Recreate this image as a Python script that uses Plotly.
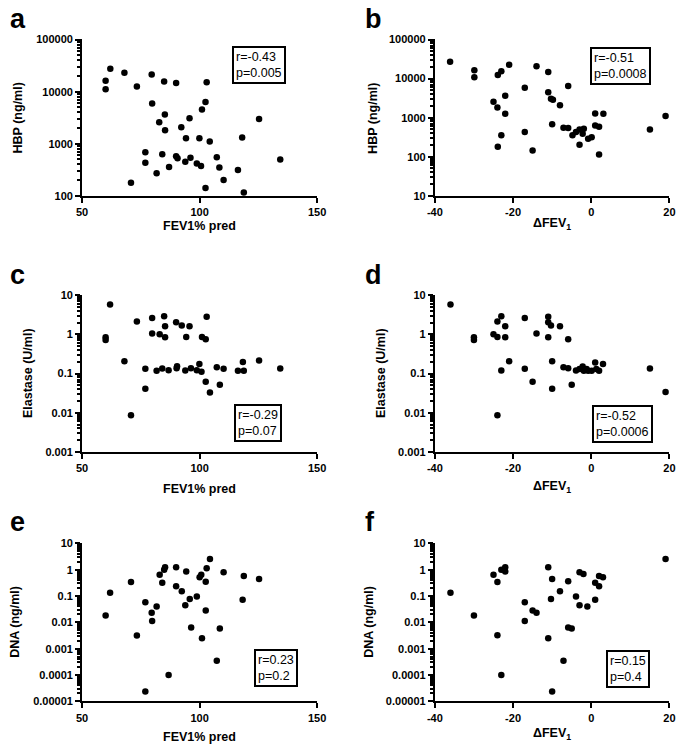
import plotly.graph_objects as go

# ---------------- data ----------------
a_x = [60, 60, 62, 68, 73.3, 79.6, 84.9, 90, 103, 79.8, 102.5, 101, 85.2, 82.8, 95.7, 92.2, 85.3, 94.2, 99.9,
       104.3, 118.1, 125.3, 76.9, 76.9, 84.1, 90, 90.6, 93.9, 96.1, 98.8, 100.6, 107.3, 108.4, 87, 81.7, 70.8,
       102.5, 110.2, 116.3, 118.8, 134.3]
a_y = [16200, 11100, 27600, 23200, 12500, 21300, 15700, 14600, 15100, 5900, 6300, 4540, 3650, 2580, 3070, 2080,
       1820, 1270, 1270, 1100, 1310, 2990, 683, 430, 627, 574, 526, 449, 535, 418, 372, 550, 351, 356, 271, 178,
       141, 200, 313, 115, 497]

b_x = [-36.1, -29.9, -29.9, -23.9, -23, -21, -14, -11, -17, -5.9, -11, -22, -10.3, -9.8, -8, -25, -24, -22, 1,
       3.1, 19, 15, -10, -7.1, -5.9, 1, 2, -17, -23, -4.8, -3.9, -3, -1.9, -2.2, -0.8, 0.1, -23.9, -15, -3, 2]
b_y = [27100, 16500, 10800, 12400, 15500, 22800, 20700, 14700, 5840, 6430, 4470, 3620, 3040, 2900, 2070, 2560,
       1810, 1260, 1280, 1260, 1100, 500, 680, 552, 545, 630, 585, 430, 355, 355, 430, 500, 520, 390, 287, 316,
       181, 144, 203, 114]

c_x = [61.9, 60, 60, 73.3, 79.8, 84.9, 90, 92.4, 85.3, 95.7, 103, 79.8, 83, 85.3, 94.3, 101, 102.6, 68, 76.9,
       81.7, 84.1, 86.8, 90.2, 90.4, 93.9, 96.3, 98.8, 99.9, 100.8, 107.3, 110.2, 116.3, 118.8, 118.4, 125.3,
       134.3, 76.9, 102.6, 108.6, 104.4, 70.8]
c_y = [5.73, 0.84, 0.72, 2.11, 2.6, 2.87, 2.03, 1.67, 1.61, 1.61, 2.81, 1.05, 1.0, 0.84, 0.85, 0.86, 0.75, 0.206,
       0.132, 0.118, 0.135, 0.122, 0.137, 0.154, 0.119, 0.137, 0.122, 0.176, 0.111, 0.145, 0.132, 0.118, 0.118,
       0.198, 0.214, 0.135, 0.041, 0.062, 0.052, 0.033, 0.0086]

d_x = [-36, -30, -30, -25, -24, -22, -24, -23, -22, -17, -14, -11, -11, -10.3, -8, -11, -5.9, -21, -23, -17, -15,
       -10, -10, -24, -7.1, -5.9, -5, -3.9, -3, -2.2, -1.9, -0.8, 0.1, 1, 2, 3, 15, 19, -1.2, 1.3]
d_y = [5.73, 0.84, 0.72, 1.0, 0.85, 0.84, 2.11, 2.87, 1.61, 2.6, 1.05, 2.8, 2.03, 1.67, 1.61, 0.84, 0.75, 0.206,
       0.119, 0.132, 0.062, 0.206, 0.041, 0.0086, 0.145, 0.137, 0.052, 0.119, 0.13, 0.15, 0.118, 0.118, 0.118,
       0.19, 0.118, 0.176, 0.135, 0.034, 0.13, 0.13]

e_x = [60, 61.9, 70.8, 73.3, 76.9, 79.6, 79.8, 81.7, 83, 84.1, 84.9, 85.3, 90, 90, 92.4, 94.3, 93.9, 95.8, 98.8,
       100, 100.7, 102.6, 103, 104.4, 110.2, 118.8, 125.3, 118.3, 102.6, 96.4, 108.6, 101, 107.3, 86.8, 76.9]
e_y = [0.0182, 0.132, 0.34, 0.00318, 0.0574, 0.023, 0.0112, 0.0395, 0.64, 0.32, 1.0, 1.23, 1.23, 0.234, 0.152,
       0.85, 0.0444, 0.0766, 0.096, 0.51, 0.64, 0.35, 1.13, 2.52, 0.80, 0.57, 0.44, 0.072, 0.028, 0.0063, 0.0058,
       0.0025, 0.00035, 0.0001, 0.0000236]

f_x = [-36, -30, -25, -24, -23, -22, -22, -24, -23, -17, -17, -15, -14, -11, -10, -10.3, -11, -10, -8, -5.9, -5.9,
       -5, -7.1, -3.9, -3, -3, -2, -1, 1, 1, 2, 2, 3, 19]
f_y = [0.132, 0.0182, 0.64, 0.34, 1.0, 1.23, 0.85, 0.0032, 0.0001, 0.0574, 0.0112, 0.028, 0.023, 1.23, 0.44,
       0.077, 0.0025, 0.0000236, 0.152, 0.36, 0.0063, 0.0058, 0.00035, 0.096, 0.0444, 0.80, 0.68, 0.0395, 0.32,
       0.072, 0.57, 0.234, 0.51, 2.52]

fev_ticks = [50, 100, 150]
dfev_ticks = [-40, -20, 0, 20]
hbp_a_ticks = [100, 1000, 10000, 100000]
hbp_a_text = ["100", "1000", "10000", "100000"]
hbp_b_ticks = [10, 100, 1000, 10000, 100000]
hbp_b_text = ["10", "100", "1000", "10000", "100000"]
ela_ticks = [0.001, 0.01, 0.1, 1, 10]
ela_text = ["0.001", "0.01", "0.1", "1", "10"]
dna_ticks = [0.00001, 0.0001, 0.001, 0.01, 0.1, 1, 10]
dna_text = ["0.00001", "0.0001", "0.001", "0.01", "0.1", "1", "10"]

stats = ["r=-0.43<br>p=0.005", "r=-0.51<br>p=0.0008", "r=-0.29<br>p=0.07",
         "r=-0.52<br>p=0.0006", "r=0.23<br>p=0.2", "r=0.15<br>p=0.4"]
letters = ["a", "b", "c", "d", "e", "f"]
ytitles = ["HBP (ng/ml)", "HBP (ng/ml)", "Elastase (U/ml)", "Elastase (U/ml)", "DNA (ng/ml)", "DNA (ng/ml)"]
xtitles = ["FEV1% pred", "ΔFEV<sub>1</sub>"] * 3

# ---------------- layout helpers ----------------
W, H = 685, 750
FONT = "Liberation Sans, Arial, Helvetica, sans-serif"


def px(x):
    return x / W


def py(y):
    return 1 - y / H


tickfont = dict(family=FONT, size=11, color="black", weight="bold")

left_dom = [px(76), px(317)]
right_dom = [px(437.7), px(678.3)]
row_doms = [[py(193), py(34)], [py(453.3), py(293.7)], [py(706.7), py(546)]]


def minor_vals(lo, hi):
    vals = []
    for e in range(lo, hi):
        for m in range(2, 10):
            vals.append(m * 10 ** e)
    return vals


def make_x(domain, rng, ticks, anchor):
    return dict(domain=domain, range=rng, anchor=anchor, showline=True, linewidth=2, linecolor="black",
                ticks="outside", ticklen=5, tickwidth=2, tickcolor="black", showgrid=False, zeroline=False,
                tickmode="array", tickvals=ticks, ticktext=[str(t) for t in ticks], tickfont=tickfont)


def make_y(domain, lo, hi, tv, tt, anchor):
    eps = 0.003
    return dict(domain=domain, type="log", range=[lo - eps, hi + eps], anchor=anchor, showline=True, linewidth=2,
                linecolor="black", ticks="outside", ticklen=5, tickwidth=2, tickcolor="black", showgrid=False,
                zeroline=False, tickmode="array", tickvals=tv, ticktext=tt, tickfont=tickfont,
                minor=dict(tickmode="array", tickvals=minor_vals(lo, hi), ticks="outside", ticklen=3,
                           tickwidth=1.5, tickcolor="black", showgrid=False))


fig = go.Figure()
series = [(a_x, a_y), (b_x, b_y), (c_x, c_y), (d_x, d_y), (e_x, e_y), (f_x, f_y)]
for i, (xs, ys) in enumerate(series):
    n = "" if i == 0 else str(i + 1)
    fig.add_trace(go.Scatter(x=xs, y=ys, mode="markers", xaxis="x" + n, yaxis="y" + n,
                             marker=dict(color="black", size=6.5, line=dict(width=0)), showlegend=False,
                             cliponaxis=False))

layout = dict(width=W, height=H, margin=dict(l=0, r=0, t=0, b=0), paper_bgcolor="white", plot_bgcolor="white",
              showlegend=False)

layout["xaxis"] = make_x(left_dom, [50, 150], fev_ticks, "y")
layout["yaxis"] = make_y(row_doms[0], 2, 5, hbp_a_ticks, hbp_a_text, "x")
layout["xaxis2"] = make_x(right_dom, [-40, 20], dfev_ticks, "y2")
layout["yaxis2"] = make_y(row_doms[0], 1, 5, hbp_b_ticks, hbp_b_text, "x2")
layout["xaxis3"] = make_x(left_dom, [50, 150], fev_ticks, "y3")
layout["yaxis3"] = make_y(row_doms[1], -3, 1, ela_ticks, ela_text, "x3")
layout["xaxis4"] = make_x(right_dom, [-40, 20], dfev_ticks, "y4")
layout["yaxis4"] = make_y(row_doms[1], -3, 1, ela_ticks, ela_text, "x4")
layout["xaxis5"] = make_x(left_dom, [50, 150], fev_ticks, "y5")
layout["yaxis5"] = make_y(row_doms[2], -5, 1, dna_ticks, dna_text, "x5")
layout["xaxis6"] = make_x(right_dom, [-40, 20], dfev_ticks, "y6")
layout["yaxis6"] = make_y(row_doms[2], -5, 1, dna_ticks, dna_text, "x6")
fig.update_layout(**layout)

ann = []
# panel letters
letter_pos = [(0, 13), (364, 13), (0, 273), (364, 273), (0, 524), (364, 524)]
for L, (x, y) in zip(letters, letter_pos):
    ann.append(dict(text=L, x=px(x), y=py(y), xref="paper", yref="paper", xanchor="left", yanchor="middle",
                    showarrow=False, font=dict(family=FONT, size=27, color="black", weight="bold")))
# y titles
ytitle_pos = [(10, 113.5), (374, 114), (20, 373.5), (382, 373.5), (7, 626), (370, 626)]
for t, (x, y) in zip(ytitles, ytitle_pos):
    ann.append(dict(text=t, x=px(x), y=py(y), xref="paper", yref="paper", xanchor="center", yanchor="middle",
                    textangle=-90, showarrow=False,
                    font=dict(family=FONT, size=12.5, color="black", weight="bold")))
# x titles
xtitle_pos = [(196.5, 223.5), (558, 222), (196.5, 490.5), (558, 489), (196.5, 743), (558, 740)]
for t, (x, y) in zip(xtitles, xtitle_pos):
    ann.append(dict(text=t, x=px(x), y=py(y), xref="paper", yref="paper", xanchor="center", yanchor="middle",
                    showarrow=False, font=dict(family=FONT, size=12.5, color="black", weight="bold")))
# stats boxes
box_pos = [(230, 41), (597, 42), (232, 404), (599, 405), (252, 653), (613, 654)]
for t, (x, y) in zip(stats, box_pos):
    ann.append(dict(text=t, x=px(x), y=py(y), xref="paper", yref="paper", xanchor="left", yanchor="top",
                    align="left", showarrow=False, bordercolor="black", borderwidth=2, borderpad=2,
                    bgcolor="white", font=dict(family=FONT, size=12.5, color="black")))

fig.update_layout(annotations=ann)
fig.write_html("out.html", config={"displayModeBar": False},
               post_script="document.body.style.margin='0';document.body.style.padding='0';"
                           "document.body.style.overflow='hidden';")
